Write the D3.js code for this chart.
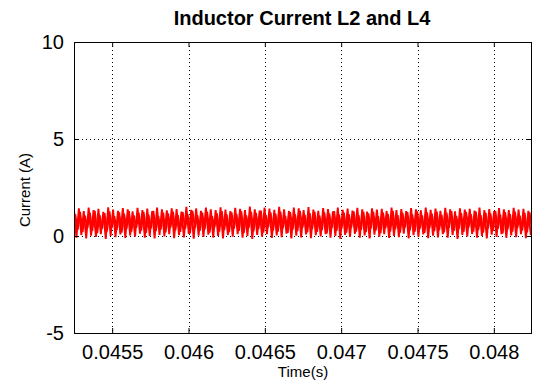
<!doctype html>
<html lang="en">
<head>
<meta charset="utf-8">
<script src="https://cdnjs.cloudflare.com/ajax/libs/d3/7.8.5/d3.min.js"></script>
<style>
  body { margin: 0; background: #fff; }
  svg { display: block; font-family: Arial, 'Liberation Sans', sans-serif; }
  .tick text { font-size: 20px; fill: #000; }
  .grid line { stroke: #000; stroke-dasharray: 1,3; stroke-width: 1; }
</style>
</head>
<body>
<script>
// Axis ticks
const xTicks = [0.0455, 0.046, 0.0465, 0.047, 0.0475, 0.048];
const xTickLabels = ["0.0455", "0.046", "0.0465", "0.047", "0.0475", "0.048"];
const yTicks = [-5, 0, 5, 10];
const yTickLabels = ["-5", "0", "5", "10"];

// Sampling of the switching waveform (one peak + one trough per cycle)
const tStart = 0.04525;
const period = 0.0000320;

// L2: peak / trough values per cycle (A)
const l2Hi = [1.35,1.42,1.28,1.46,1.33,1.40,1.25,1.48,1.36,1.30,1.44,1.38,1.27,1.45,1.34,1.41,1.29,1.47,1.37,1.32,1.43,1.39,1.26,1.50,1.35,1.42,1.30,1.46,1.38,1.33,1.48,1.36,1.28,1.45,1.40,1.34,1.52,1.37,1.31,1.47,1.41,1.35,1.50,1.38,1.29,1.46,1.42,1.33,1.49,1.36,1.30,1.44,1.39,1.27,1.47,1.35,1.41,1.31,1.45,1.38,1.26,1.43,1.36,1.40,1.29,1.46,1.34,1.39,1.28,1.44,1.37,1.32,1.47,1.35,1.41,1.30,1.45,1.38,1.27,1.43,1.36,1.40,1.31,1.46,1.34,1.39,1.28,1.44,1.37,1.33,1.45,1.36,1.40,1.30];
const l2Lo = [-0.08,0.05,-0.12,0.02,-0.05,0.10,-0.15,0.00,-0.06,0.08,-0.10,0.03,-0.04,0.12,-0.09,0.01,-0.13,0.06,-0.02,0.09,-0.11,0.04,-0.07,0.11,-0.14,0.02,-0.05,0.07,-0.09,0.00,-0.12,0.05,-0.03,0.10,-0.08,0.01,-0.15,0.06,-0.04,0.09,-0.10,0.03,-0.06,0.12,-0.13,0.02,-0.07,0.08,-0.11,0.04,-0.02,0.10,-0.09,0.00,-0.14,0.05,-0.05,0.11,-0.08,0.03,-0.12,0.07,-0.03,0.09,-0.10,0.01,-0.06,0.12,-0.13,0.04,-0.04,0.08,-0.11,0.02,-0.07,0.10,-0.09,0.05,-0.15,0.06,-0.02,0.11,-0.08,0.00,-0.12,0.07,-0.05,0.09,-0.10,0.03,-0.06,0.10,-0.11,0.04];

// L4: peak / trough values per cycle (A)
const l4Hi = [1.12,1.25,1.05,1.20,1.30,1.08,1.18,1.27,1.02,1.22,1.15,1.28,1.06,1.19,1.24,1.10,1.29,1.04,1.21,1.16,1.26,1.09,1.23,1.13,1.30,1.07,1.20,1.25,1.03,1.17,1.28,1.11,1.22,1.14,1.27,1.06,1.24,1.19,1.31,1.08,1.21,1.15,1.26,1.04,1.23,1.12,1.29,1.09,1.18,1.25,1.05,1.22,1.16,1.28,1.10,1.20,1.13,1.27,1.07,1.24,1.17,1.26,1.03,1.21,1.14,1.29,1.08,1.19,1.23,1.11,1.27,1.06,1.22,1.15,1.25,1.09,1.20,1.28,1.04,1.18,1.24,1.12,1.26,1.07,1.21,1.16,1.29,1.10,1.23,1.13,1.25,1.05,1.19,1.22];
const l4Lo = [0.32,0.20,0.41,0.27,0.15,0.38,0.24,0.44,0.30,0.18,0.36,0.22,0.42,0.28,0.16,0.39,0.25,0.33,0.19,0.43,0.29,0.21,0.37,0.14,0.40,0.26,0.34,0.17,0.45,0.23,0.31,0.20,0.38,0.27,0.15,0.41,0.24,0.35,0.18,0.44,0.28,0.22,0.39,0.16,0.33,0.25,0.42,0.19,0.36,0.21,0.30,0.14,0.40,0.26,0.37,0.17,0.43,0.23,0.32,0.20,0.38,0.28,0.15,0.41,0.24,0.34,0.18,0.45,0.29,0.22,0.36,0.16,0.39,0.25,0.31,0.19,0.42,0.27,0.35,0.21,0.44,0.23,0.30,0.17,0.40,0.26,0.37,0.14,0.33,0.22,0.41,0.28,0.18,0.36];

const w = 533, h = 387;
const padL = 74, padR = 532, padT = 42, padB = 333;

const x = d3.scaleLinear().domain([0.04525, 0.04825]).range([padL, padR]);
const y = d3.scaleLinear().domain([-5, 10]).range([padB, padT]);

const svg = d3.select("body").append("svg").attr("width", w).attr("height", h);

svg.append("defs").append("clipPath").attr("id", "plotclip")
  .append("rect").attr("x", padL).attr("y", padT).attr("width", padR - padL).attr("height", padB - padT);

// grid
const grid = svg.append("g").attr("class", "grid");
grid.selectAll(".vx").data(xTicks).enter().append("line")
  .attr("x1", d => Math.round(x(d)) + 0.5).attr("x2", d => Math.round(x(d)) + 0.5)
  .attr("y1", padT).attr("y2", padB);
grid.selectAll(".hy").data(yTicks.filter(d => d > -5 && d < 10)).enter().append("line")
  .attr("y1", d => Math.round(y(d)) + 0.5).attr("y2", d => Math.round(y(d)) + 0.5)
  .attr("x1", padL).attr("x2", padR);

// waveforms
function zigzag(hi, lo, offset) {
  const pts = [];
  hi.forEach((v, i) => {
    pts.push([tStart + (i + offset) * period, v]);
    pts.push([tStart + (i + offset + 0.5) * period, lo[i]]);
  });
  return pts;
}
const line = d3.line().x(d => x(d[0])).y(d => y(d[1]));
const plot = svg.append("g").attr("clip-path", "url(#plotclip)");
[zigzag(l4Hi, l4Lo, 0.25), zigzag(l2Hi, l2Lo, 0)].forEach(pts => {
  plot.append("path").datum(pts).attr("d", line)
    .attr("fill", "none").attr("stroke", "#ff0000").attr("stroke-width", 1.9);
});

// axes (MATLAB style: inward ticks, box)
svg.append("g").attr("transform", `translate(0,${padB})`)
  .call(d3.axisBottom(x).tickValues(xTicks).tickSize(-5).tickPadding(12).tickFormat((d, i) => xTickLabels[i]))
  .call(g => g.select(".domain").remove());
svg.append("g").attr("transform", `translate(0,${padT})`)
  .call(d3.axisTop(x).tickValues(xTicks).tickSize(-5).tickFormat(""))
  .call(g => g.select(".domain").remove());
svg.append("g").attr("transform", `translate(${padL},0)`)
  .call(d3.axisLeft(y).tickValues(yTicks).tickSize(-5).tickPadding(10).tickFormat((d, i) => yTickLabels[i]))
  .call(g => g.select(".domain").remove());
svg.append("g").attr("transform", `translate(${padR},0)`)
  .call(d3.axisRight(y).tickValues(yTicks).tickSize(-5).tickFormat(""))
  .call(g => g.select(".domain").remove());

svg.selectAll(".tick line").attr("stroke", "#000");

svg.append("rect").attr("x", padL + 0.5).attr("y", padT + 0.5)
  .attr("width", padR - padL - 1).attr("height", padB - padT)
  .attr("fill", "none").attr("stroke", "#000").attr("stroke-width", 1);

// labels
svg.append("text").attr("x", 302).attr("y", 25).attr("text-anchor", "middle")
  .style("font-size", "20px").style("font-weight", "bold").text("Inductor Current L2 and L4");
svg.append("text").attr("x", 303).attr("y", 377).attr("text-anchor", "middle")
  .style("font-size", "15px").text("Time(s)");
svg.append("text").attr("transform", "rotate(-90)").attr("x", -190).attr("y", 30)
  .attr("text-anchor", "middle").style("font-size", "15px").text("Current (A)");
</script>
</body>
</html>
